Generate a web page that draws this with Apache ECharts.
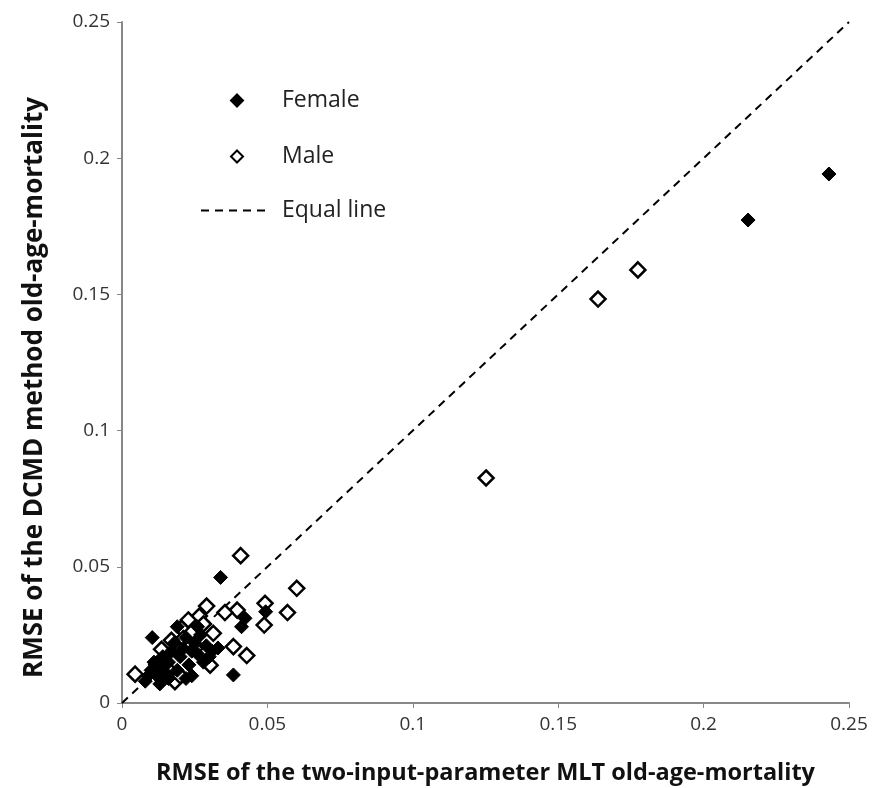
<!DOCTYPE html>
<html><head><meta charset="utf-8">
<script src="https://cdn.jsdelivr.net/npm/echarts@6/dist/echarts.min.js"></script>
<style>html,body{margin:0;padding:0;background:#fff}#c{width:882px;height:788px}</style>
</head><body><div id="c"></div>
<script>
const xTicks = [0, 0.05, 0.1, 0.15, 0.2, 0.25];
const yTicks = [0, 0.05, 0.1, 0.15, 0.2, 0.25];
const female = [
  [0.2431,0.1942],[0.2153,0.1773],[0.0339,0.0461],[0.0104,0.0240],[0.0423,0.0311],
  [0.0411,0.0280],[0.0494,0.0335],[0.0383,0.0103],[0.0330,0.0202],
  [0.008,0.008],[0.010,0.012],[0.012,0.010],[0.011,0.015],[0.013,0.013],[0.015,0.011],
  [0.014,0.017],[0.016,0.015],[0.017,0.019],[0.019,0.012],[0.018,0.022],[0.020,0.017],
  [0.021,0.020],[0.022,0.024],[0.023,0.014],[0.024,0.019],[0.025,0.022],[0.026,0.018],
  [0.027,0.025],[0.028,0.015],[0.029,0.021],[0.030,0.017],[0.031,0.019],[0.024,0.010],
  [0.022,0.009],[0.013,0.007],[0.019,0.028],[0.026,0.028],[0.009,0.010],[0.016,0.009]
];
const male = [
  [0.1774,0.1590],[0.1637,0.1483],[0.1252,0.0826],[0.0408,0.0541],[0.0601,0.0421],
  [0.0569,0.0332],[0.0492,0.0366],[0.0489,0.0286],[0.0396,0.0341],[0.0354,0.0332],
  [0.0383,0.0207],[0.0429,0.0174],[0.0291,0.0356],[0.0314,0.0256],[0.0303,0.0139],
  [0.0266,0.0319],[0.0136,0.0197],[0.0045,0.0106],[0.0205,0.0274],[0.0211,0.0237],
  [0.0182,0.0078],[0.0251,0.0200],[0.0228,0.0305],[0.0162,0.0120],[0.0120,0.0140],
  [0.0280,0.0290],[0.0170,0.0230],[0.0200,0.0100],[0.0240,0.0260]
];
const equalLine = [[0,0],[0.25,0.25]];
const xTitle = 'RMSE of the two-input-parameter MLT old-age-mortality';
const yTitle = 'RMSE of the DCMD method old-age-mortality';

const font = "'Open Sans', 'Noto Sans', sans-serif";
const chart = echarts.init(document.getElementById('c'), null, {renderer:'canvas'});
const fmt = v => (v === 0 ? '0' : String(+v.toFixed(2)));
chart.setOption({
  animation: false,
  backgroundColor: '#fff',
  grid: {left: 122, right: 33, top: 22, bottom: 85, containLabel: false, outerBoundsMode: 'none'},
  xAxis: {
    type: 'value', min: 0, max: 0.25, interval: 0.05,
    name: xTitle, nameLocation: 'middle', nameGap: 58,
    nameTextStyle: {fontFamily: font, fontSize: 23.5, fontWeight: 'bold', color: '#111'},
    axisLine: {lineStyle: {color: '#888', width: 2}},
    axisTick: {show: true, length: 5, lineStyle: {color: '#888'}},
    splitLine: {show: false},
    axisLabel: {fontFamily: font, fontSize: 19, color: '#333', margin: 12, formatter: fmt}
  },
  yAxis: {
    type: 'value', min: 0, max: 0.25, interval: 0.05,
    name: yTitle, nameLocation: 'middle', nameGap: 74, nameRotate: 90,
    nameTextStyle: {fontFamily: font, fontSize: 26, fontWeight: 'bold', color: '#111', padding: [0, 50, 0, 0]},
    axisLine: {show: true, lineStyle: {color: '#888', width: 2}},
    axisTick: {show: true, length: 5, lineStyle: {color: '#888'}},
    splitLine: {show: false},
    axisLabel: {fontFamily: font, fontSize: 19, color: '#333', margin: 12, formatter: fmt}
  },
  legend: [
    {
      orient: 'vertical', left: 225, top: 84, itemWidth: 12, itemHeight: 12, itemGap: 33,
      data: [
        {name: 'Female', icon: 'diamond'},
        {name: 'Male', icon: 'diamond'}
      ],
      textStyle: {fontFamily: font, fontSize: 23, color: '#222', padding: [0,0,0,34]}
    },
    {
      orient: 'vertical', left: 195, top: 194, itemWidth: 67, itemHeight: 14,
      data: [{name: 'Equal line', itemStyle: {opacity: 0}}],
      textStyle: {fontFamily: font, fontSize: 23, color: '#222', padding: [0,0,0,9]}
    }
  ],
  series: [
    {
      name: 'Equal line', type: 'line', data: equalLine, symbol: 'none',
      itemStyle: {color: '#000', opacity: 0},
      lineStyle: {color: '#000', width: 2, type: [8, 6]}, z: 1
    },
    {
      name: 'Female', type: 'scatter', data: female, symbol: 'diamond', symbolSize: 14,
      itemStyle: {color: '#000', borderColor: '#000', borderWidth: 1, opacity: 1}, z: 3
    },
    {
      name: 'Male', type: 'scatter', data: male, symbol: 'diamond', symbolSize: 15,
      itemStyle: {color: '#fff', borderColor: '#000', borderWidth: 2.5, opacity: 1}, z: 2
    }
  ]
});
</script></body></html>
